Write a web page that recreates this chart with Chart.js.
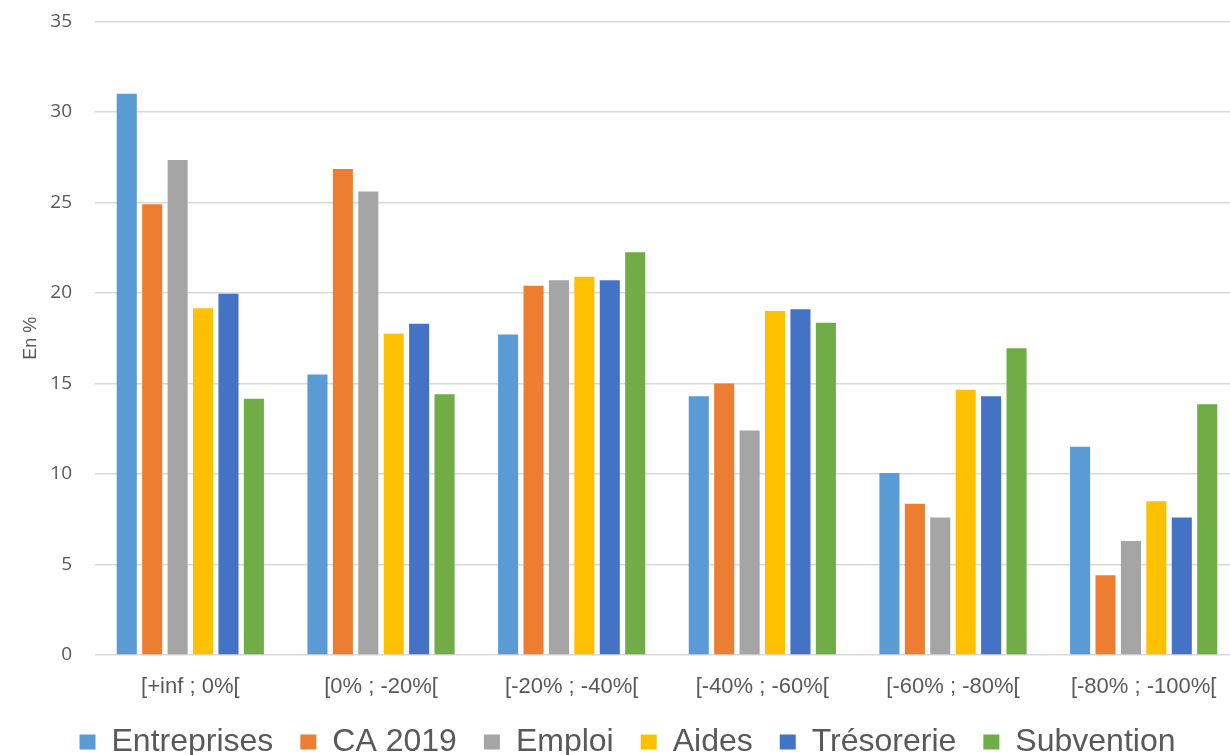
<!DOCTYPE html>
<html lang="fr">
<head>
<meta charset="utf-8">
<title>Répartition des entreprises</title>
<script src="https://cdn.jsdelivr.net/npm/chart.js@4/dist/chart.umd.min.js"></script>
<style>
    html, body { margin: 0; padding: 0; background: #ffffff; overflow: hidden; }
    #wrap { width: 1240px; height: 781px; margin-top: -13px; }
</style>
</head>
<body>
<div id="wrap"><canvas id="chart" width="1240" height="781"></canvas></div>
<script>
    // Tranches d'évolution
    const categories = ["[+inf ; 0%[", "[0% ; -20%[", "[-20% ; -40%[", "[-40% ; -60%[", "[-60% ; -80%[", "[-80% ; -100%["];

    // Part des entreprises (en %) par tranche
    const entreprises = [31.0, 15.5, 17.7, 14.3, 10.05, 11.5];
    const ca2019 = [24.9, 26.85, 20.4, 15.0, 8.35, 4.4];
    const emploi = [27.35, 25.6, 20.7, 12.4, 7.6, 6.3];
    const aides = [19.15, 17.75, 20.9, 19.0, 14.65, 8.5];
    const tresorerie = [19.95, 18.3, 20.7, 19.1, 14.3, 7.6];
    const subvention = [14.15, 14.4, 22.25, 18.35, 16.95, 13.85];

    const yTicks = [0, 5, 10, 15, 20, 25, 30, 35];

    const series = [
        { label: "Entreprises", data: entreprises, color: "#5B9BD5" },
        { label: "CA 2019", data: ca2019, color: "#ED7D31" },
        { label: "Emploi", data: emploi, color: "#A5A5A5" },
        { label: "Aides", data: aides, color: "#FFC000" },
        { label: "Trésorerie", data: tresorerie, color: "#4472C4" },
        { label: "Subvention", data: subvention, color: "#70AD47" }
    ];

    const grey = "#595959";
    const sans = "'Liberation Sans', Arial, sans-serif";

    new Chart(document.getElementById("chart"), {
        type: "bar",
        data: {
            labels: categories,
            datasets: series.map(s => ({
                label: s.label,
                data: s.data,
                backgroundColor: s.color,
                borderColor: s.color,
                borderWidth: 0,
                categoryPercentage: 0.8,
                barPercentage: 0.79
            }))
        },
        options: {
            responsive: false,
            animation: false,
            layout: { padding: { left: 16, right: 1, top: 0, bottom: 0 } },
            plugins: {
                tooltip: { enabled: false },
                legend: {
                    position: "bottom",
                    labels: {
                        color: grey,
                        boxWidth: 16,
                        boxHeight: 15,
                        padding: 27,
                        font: { family: sans, size: 32 }
                    }
                }
            },
            scales: {
                x: {
                    grid: { display: false, drawTicks: false },
                    border: { display: false },
                    ticks: {
                        color: grey,
                        padding: 19,
                        font: { family: sans, size: 22 }
                    },
                    afterFit: axis => { axis.height = 44; }
                },
                y: {
                    min: 0,
                    max: 35,
                    afterBuildTicks: axis => { axis.ticks = yTicks.map(v => ({ value: v })); },
                    grid: { color: "#D9D9D9", lineWidth: 1.5, drawTicks: false },
                    border: { display: false },
                    ticks: {
                        color: grey,
                        padding: 23,
                        font: { family: "'Open Sans', sans-serif", size: 19 }
                    },
                    title: {
                        display: true,
                        text: "En %",
                        color: grey,
                        padding: { top: 4, bottom: 4 },
                        font: { family: sans, size: 18 }
                    },
                    afterFit: axis => { axis.width = 79; }
                }
            }
        }
    });
</script>
</body>
</html>
